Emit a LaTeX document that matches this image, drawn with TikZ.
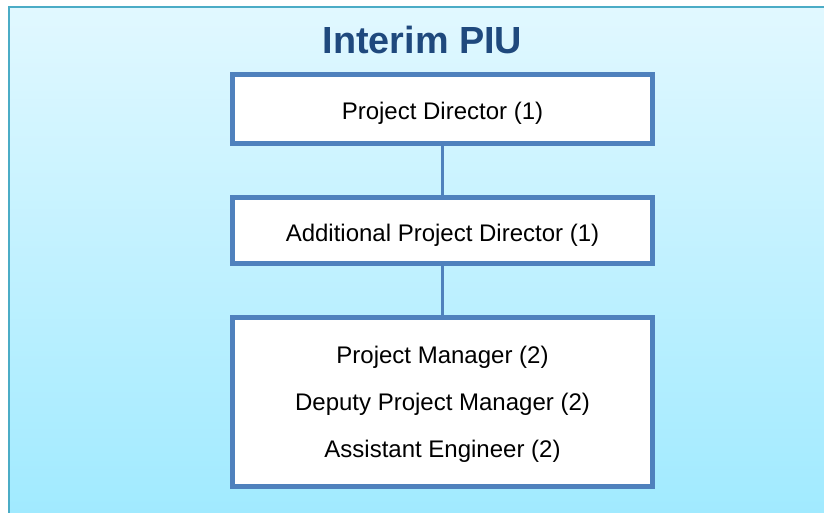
\documentclass[tikz,border=0pt]{standalone}
\usepackage{fontspec}
\setmainfont{Liberation Sans}
\definecolor{frameteal}{RGB}{75,172,198}
\definecolor{boxblue}{RGB}{79,129,189}
\definecolor{titleblue}{RGB}{31,73,125}
\definecolor{bgtop}{RGB}{225,248,255}
\definecolor{bgbottom}{RGB}{160,234,255}
\newcommand{\boxtext}[1]{\raisebox{-10.5pt}[0pt][0pt]{#1}}
\newcommand{\teamline}[1]{\raisebox{-8.6pt}[0pt][0pt]{#1}}
\tikzset{
  orgbox/.style={draw=boxblue, line width=5pt, fill=white, minimum width=420pt, inner sep=0pt, align=center, font=\fontsize{24}{47}\selectfont},
  orglink/.style={draw=boxblue, line width=3pt}
}
\begin{document}
\begin{tikzpicture}[x=1pt,y=-1pt]
\useasboundingbox (0,0) rectangle (824,513);
\shade[top color=bgtop, bottom color=bgbottom] (8.5,7.5) rectangle (830,520);
\draw[frameteal, line width=2pt] (8.5,520) -- (8.5,7.5) -- (830,7.5);
\node[font=\fontsize{37.8}{40}\selectfont\bfseries, text=titleblue, anchor=base] (title) at (422.5,54) {Interim PIU};
\node[orgbox, minimum height=69pt] (pd) at (442.5,109) {\boxtext{Project Director (1)}};
\node[orgbox, minimum height=66pt] (apd) at (442.5,230.5) {\boxtext{Additional Project Director (1)}};
\node[orgbox, minimum height=169pt] (team) at (442.5,402) {\teamline{Project Manager (2)}\\\teamline{Deputy Project Manager (2)}\\\teamline{Assistant Engineer (2)}};
\draw[orglink] (pd.south) -- (apd.north);
\draw[orglink] (apd.south) -- (team.north);
\end{tikzpicture}
\end{document}
